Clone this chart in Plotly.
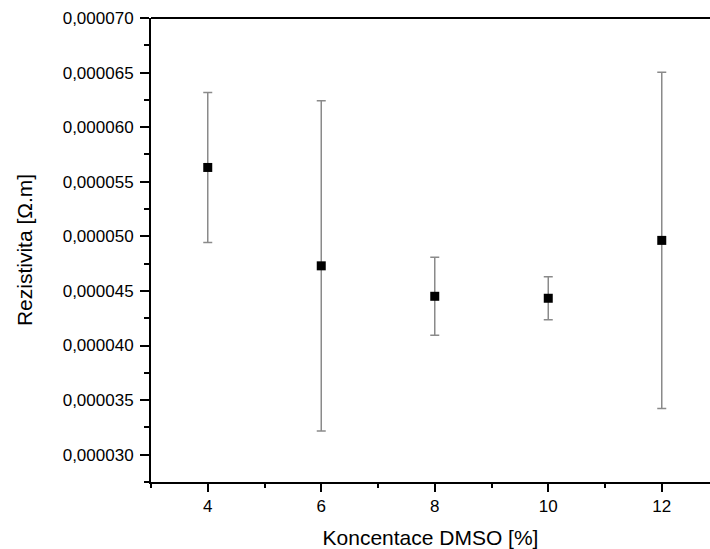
import plotly.graph_objects as go

concentration = [4, 6, 8, 10, 12]
resistivity = [5.631e-5, 4.730e-5, 4.451e-5, 4.433e-5, 4.963e-5]
resistivity_err = [6.87e-6, 15.12e-6, 3.57e-6, 1.98e-6, 15.40e-6]

y_ticks = [3.0e-5, 3.5e-5, 4.0e-5, 4.5e-5, 5.0e-5, 5.5e-5, 6.0e-5, 6.5e-5, 7.0e-5]
x_ticks = [4, 6, 8, 10, 12]

font_family = "Arial, Liberation Sans, sans-serif"

fig = go.Figure()
fig.add_trace(go.Scatter(
    x=concentration,
    y=resistivity,
    mode="markers",
    marker=dict(symbol="square", size=9, color="black"),
    error_y=dict(type="data", array=resistivity_err, visible=True,
                 color="#8a8a8a", thickness=1.5, width=4.5),
    showlegend=False,
))

fig.update_layout(
    width=710, height=549,
    margin=dict(l=151, r=0, t=18, b=67),
    paper_bgcolor="white", plot_bgcolor="white",
    separators=", ",
    font=dict(family=font_family, color="black", size=17),
    xaxis=dict(
        range=[3, 12.85],
        tickvals=x_ticks,
        automargin=False,
        ticks="outside", ticklen=8, tickwidth=1.5, tickcolor="black",
        minor=dict(dtick=1, tick0=3, ticks="outside", ticklen=4, tickwidth=1.5, tickcolor="black"),
        showline=True, linecolor="black", linewidth=2,
        showgrid=False, zeroline=False,
        tickfont=dict(size=17),
        title=dict(text="Koncentace DMSO [%]", font=dict(size=21), standoff=15),
    ),
    yaxis=dict(
        range=[2.75e-5, 7.0e-5],
        tickvals=y_ticks,
        tickformat=".6f",
        automargin=False,
        ticklabelstandoff=3,
        ticks="outside", ticklen=9, tickwidth=1.5, tickcolor="black",
        minor=dict(dtick=2.5e-6, tick0=0, ticks="outside", ticklen=5, tickwidth=1.5, tickcolor="black"),
        showline=True, linecolor="black", linewidth=2,
        showgrid=False, zeroline=False,
        tickfont=dict(size=17),
        title=dict(text="Rezistivita [Ω.m]", font=dict(size=21), standoff=24),
    ),
    shapes=[dict(type="line", xref="paper", yref="paper", x0=0, x1=1, y0=1, y1=1,
                 line=dict(color="black", width=2))],
)

fig.write_html("out.html",
               config={"displayModeBar": False},
               post_script="document.body.style.margin='0';document.body.style.overflow='hidden';")
